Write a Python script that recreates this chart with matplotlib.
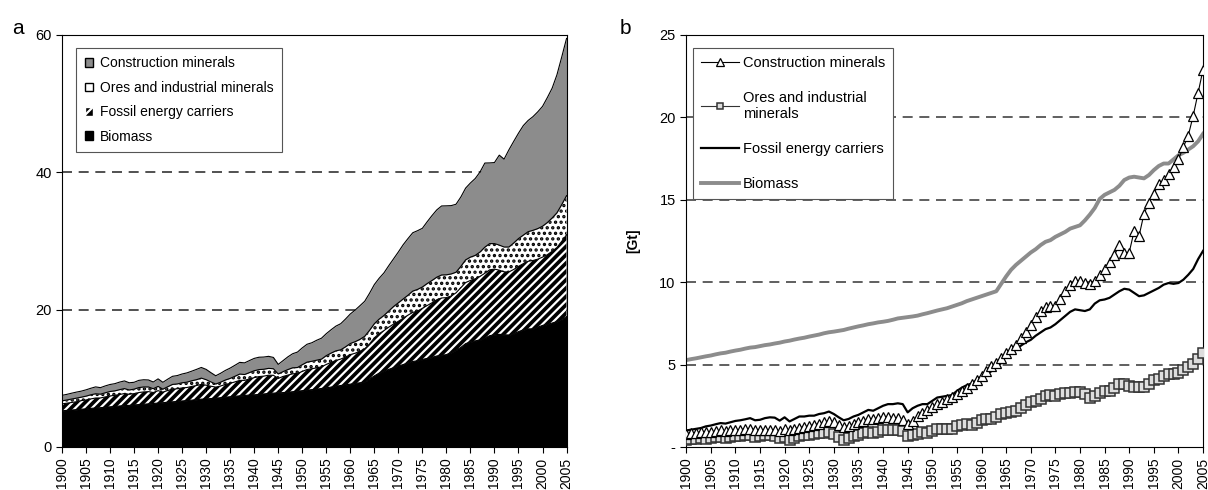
import numpy as np
import matplotlib.pyplot as plt

plt.rcParams['font.family'] = ['Liberation Sans', 'DejaVu Sans']
plt.rcParams['hatch.linewidth'] = 1.6

years = np.arange(1900, 2006)

biomass = [
    5.27, 5.33, 5.38, 5.44, 5.50, 5.55, 5.62, 5.68, 5.72, 5.79,
    5.85, 5.90, 5.97, 6.03, 6.06, 6.12, 6.18, 6.22, 6.28, 6.33,
    6.40, 6.45, 6.52, 6.58, 6.63, 6.70, 6.76, 6.82, 6.90, 6.96,
    7.00, 7.05, 7.10, 7.18, 7.25, 7.32, 7.38, 7.45, 7.50, 7.56,
    7.60, 7.65, 7.72, 7.80, 7.84, 7.88, 7.92, 7.97, 8.05, 8.12,
    8.20, 8.28, 8.35, 8.42, 8.52, 8.62, 8.72, 8.85, 8.95, 9.05,
    9.15, 9.25, 9.35, 9.45, 9.90, 10.35, 10.75, 11.05, 11.30, 11.55,
    11.80, 12.00, 12.25, 12.45, 12.55, 12.75, 12.90, 13.05, 13.25, 13.35,
    13.45, 13.75, 14.10, 14.50, 15.05, 15.30, 15.45, 15.60, 15.85, 16.20,
    16.35, 16.40, 16.35, 16.30, 16.50, 16.80, 17.05, 17.20, 17.20, 17.45,
    17.70, 17.85, 18.05, 18.25, 18.55, 19.00,
]

fossil = [
    1.00, 1.05, 1.10, 1.15, 1.25, 1.30, 1.38, 1.45, 1.42, 1.50,
    1.58, 1.62, 1.68, 1.75, 1.62, 1.65, 1.75, 1.80, 1.78, 1.60,
    1.80, 1.55, 1.70, 1.85, 1.85, 1.90, 1.90, 2.00, 2.05, 2.15,
    2.00, 1.80, 1.62, 1.70, 1.85, 1.95, 2.10, 2.25, 2.20, 2.35,
    2.50, 2.60, 2.60, 2.65, 2.60, 2.10, 2.35, 2.50, 2.60, 2.60,
    2.80, 3.00, 3.05, 3.10, 3.15, 3.40, 3.60, 3.75, 3.85, 4.05,
    4.30, 4.40, 4.60, 4.85, 5.10, 5.55, 5.75, 5.90, 6.15, 6.35,
    6.50, 6.75, 6.95, 7.15, 7.25, 7.45, 7.70, 7.95, 8.20, 8.35,
    8.30, 8.25, 8.35, 8.70, 8.90, 8.95, 9.05, 9.25, 9.45, 9.60,
    9.55, 9.35, 9.15, 9.20, 9.35, 9.50, 9.65, 9.85, 9.95, 9.90,
    9.95, 10.15, 10.45, 10.80, 11.40, 11.90,
]

ores = [
    0.45, 0.46, 0.50, 0.52, 0.50, 0.55, 0.60, 0.62, 0.55, 0.60,
    0.65, 0.65, 0.70, 0.72, 0.62, 0.65, 0.72, 0.72, 0.68, 0.55,
    0.62, 0.42, 0.55, 0.68, 0.70, 0.75, 0.78, 0.82, 0.85, 0.92,
    0.80, 0.62, 0.45, 0.55, 0.65, 0.72, 0.82, 0.92, 0.85, 0.92,
    1.00, 1.02, 1.00, 1.00, 0.95, 0.65, 0.70, 0.80, 0.88, 0.85,
    0.98, 1.08, 1.08, 1.12, 1.12, 1.28, 1.35, 1.40, 1.35, 1.48,
    1.62, 1.68, 1.72, 1.82, 1.98, 2.05, 2.12, 2.20, 2.35, 2.55,
    2.70, 2.80, 2.90, 3.10, 3.15, 3.10, 3.20, 3.25, 3.28, 3.35,
    3.32, 3.20, 3.00, 3.10, 3.30, 3.40, 3.40, 3.55, 3.80, 3.82,
    3.72, 3.65, 3.62, 3.62, 3.85, 4.05, 4.15, 4.30, 4.40, 4.45,
    4.50, 4.68, 4.85, 5.05, 5.35, 5.70,
]

construction = [
    0.80, 0.82, 0.85, 0.88, 0.88, 0.92, 0.95, 1.00, 0.95, 1.00,
    1.02, 1.05, 1.10, 1.12, 1.05, 1.00, 1.05, 1.05, 1.02, 0.98,
    1.10, 1.00, 1.10, 1.18, 1.22, 1.28, 1.35, 1.40, 1.50, 1.55,
    1.50, 1.35, 1.20, 1.30, 1.40, 1.50, 1.60, 1.70, 1.70, 1.75,
    1.80, 1.80, 1.78, 1.75, 1.65, 1.40, 1.60, 1.85, 2.05, 2.25,
    2.45, 2.60, 2.70, 2.90, 3.05, 3.20, 3.40, 3.60, 3.80, 4.05,
    4.30, 4.60, 4.90, 5.10, 5.40, 5.70, 5.95, 6.20, 6.60, 6.95,
    7.40, 7.90, 8.25, 8.50, 8.55, 8.55, 9.00, 9.45, 9.80, 10.05,
    10.05, 9.95, 9.90, 10.10, 10.45, 10.80, 11.20, 11.65, 12.25, 11.75,
    11.80, 13.10, 12.80, 14.15, 14.80, 15.35, 15.95, 16.20, 16.55, 17.00,
    17.45, 18.20, 18.90, 20.10, 21.50, 22.90,
]

xticks = np.arange(1900, 2006, 5)

fig = plt.figure(figsize=(12.08, 4.9), dpi=100)
axa = fig.add_axes([0.0513, 0.0878, 0.4177, 0.8408])
axb = fig.add_axes([0.568, 0.0878, 0.4279, 0.8408])

# ---- panel a: stacked areas
b = np.array(biomass)
f = b + np.array(fossil)
o = f + np.array(ores)
c = o + np.array(construction)

axa.fill_between(years, 0, b, facecolor='black', edgecolor='black', lw=0.8)
axa.fill_between(years, b, f, facecolor='black', edgecolor='white', hatch='////', lw=0)
axa.fill_between(years, f, o, facecolor='white', edgecolor='black', hatch='...', lw=0)
axa.fill_between(years, o, c, facecolor='#8c8c8c', edgecolor='black', lw=0)
for top in (b, f, o, c):
    axa.plot(years, top, color='black', lw=0.8)

for yv in (20, 40):
    axa.axhline(yv, color='#333333', ls=(0, (6, 4)), lw=1.2, zorder=0)

axa.set_xlim(1900, 2005)
axa.set_ylim(0, 60)
axa.set_yticks([0, 20, 40, 60])
axa.set_xticks(xticks)
axa.set_xticklabels([str(t) for t in xticks], rotation=90, fontsize=10)
axa.tick_params(axis='y', labelsize=10.5, direction='out', length=4)
axa.tick_params(axis='x', direction='out', length=4)

hp = [
    plt.Rectangle((0, 0), 1, 1, facecolor='#8c8c8c', edgecolor='black'),
    plt.Rectangle((0, 0), 1, 1, facecolor='white', edgecolor='black'),
    plt.Rectangle((0, 0), 1, 1, facecolor='black', edgecolor='white', hatch='///'),
    plt.Rectangle((0, 0), 1, 1, facecolor='black', edgecolor='black'),
]
la = axa.legend(hp, ['Construction minerals', 'Ores and industrial minerals',
                     'Fossil energy carriers', 'Biomass'],
                loc='upper left', bbox_to_anchor=(0.015, 0.985), fontsize=10,
                handlelength=0.6, handleheight=0.6, handletextpad=0.5,
                labelspacing=0.75, borderpad=0.6, fancybox=False,
                edgecolor='#555555', framealpha=1)
la.get_frame().set_linewidth(0.8)

# ---- panel b: individual series
for yv in (5, 10, 15, 20):
    axb.axhline(yv, color='#444444', ls=(0, (6, 4)), lw=1.2, zorder=0)

axb.plot(years, biomass, color='#8c8c8c', lw=2.8, label='Biomass', zorder=2)
axb.plot(years, fossil, color='black', lw=1.6, label='Fossil energy carriers', zorder=3)
axb.plot(years, ores, color='#333333', lw=0.8, marker='s', ms=6.5,
         mfc='#dddddd', mec='#333333', mew=1.1,
         label='Ores and industrial\nminerals', zorder=4)
axb.plot(years, construction, color='black', lw=0.8, marker='^', ms=7.5,
         mfc='white', mec='black', mew=0.9,
         label='Construction minerals', zorder=5)

axb.set_xlim(1900, 2005)
axb.set_ylim(0, 25)
axb.set_yticks([0, 5, 10, 15, 20, 25])
axb.set_yticklabels(['-', '5', '10', '15', '20', '25'])
axb.set_xticks(xticks)
axb.set_xticklabels([str(t) for t in xticks], rotation=90, fontsize=10)
axb.tick_params(axis='y', labelsize=10.5, direction='out', length=4)
axb.tick_params(axis='x', direction='out', length=4)
axb.set_ylabel('[Gt]', fontsize=10, fontweight='bold', labelpad=14)

hb, lb = axb.get_legend_handles_labels()
order = [3, 2, 1, 0]
lgb = axb.legend([hb[i] for i in order], [lb[i] for i in order],
                 loc='upper left', bbox_to_anchor=(0.0, 0.985), fontsize=10.5,
                 handlelength=2.6, handletextpad=0.3, labelspacing=1.45,
                 borderpad=0.5, fancybox=False, edgecolor='#555555',
                 framealpha=1, markerscale=0.7)
lgb.get_frame().set_linewidth(0.8)

fig.text(0.010, 0.93, 'a', fontsize=15)
fig.text(0.513, 0.93, 'b', fontsize=15)

fig.savefig('out.png', dpi=100)
